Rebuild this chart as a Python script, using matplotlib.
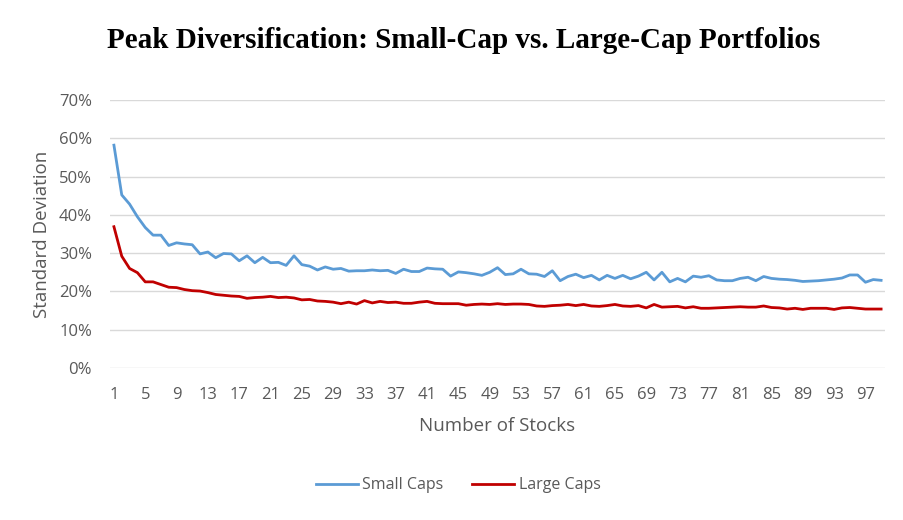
import numpy as np
import matplotlib
matplotlib.use('Agg')
import matplotlib.pyplot as plt
from matplotlib.ticker import FuncFormatter

# number of stocks in the portfolio, 1..99
n_stocks = list(range(1, 100))

# standard deviation, in percent
small_caps = [
    58.2, 45.2, 42.8, 39.5, 36.7, 34.7, 34.7, 32.0, 32.7, 32.4,
    32.2, 29.8, 30.3, 28.8, 29.9, 29.8, 28.0, 29.3, 27.5, 28.9,
    27.5, 27.6, 26.8, 29.3, 27.0, 26.6, 25.6, 26.4, 25.8, 26.0,
    25.3, 25.4, 25.4, 25.6, 25.4, 25.5, 24.7, 25.8, 25.2, 25.2,
    26.1, 25.9, 25.8, 24.0, 25.1, 24.9, 24.6, 24.2, 25.0, 26.2,
    24.4, 24.6, 25.8, 24.6, 24.5, 23.9, 25.4, 22.8, 23.9, 24.5,
    23.6, 24.2, 23.0, 24.2, 23.4, 24.2, 23.3, 24.0, 25.0, 23.0,
    25.0, 22.5, 23.4, 22.5, 24.0, 23.7, 24.1, 23.0, 22.8, 22.8,
    23.4, 23.7, 22.8, 23.9, 23.4, 23.2, 23.1, 22.9, 22.6, 22.7,
    22.8, 23.0, 23.2, 23.5, 24.3, 24.3, 22.4, 23.1, 22.9,
]
large_caps = [
    36.9, 29.2, 26.0, 24.9, 22.5, 22.5, 21.8, 21.1, 21.0, 20.5,
    20.2, 20.1, 19.7, 19.2, 19.0, 18.8, 18.7, 18.2, 18.4, 18.5,
    18.7, 18.4, 18.5, 18.3, 17.8, 17.9, 17.5, 17.4, 17.2, 16.8,
    17.2, 16.7, 17.6, 17.0, 17.4, 17.1, 17.2, 16.9, 16.9, 17.2,
    17.4, 16.9, 16.8, 16.8, 16.8, 16.4, 16.6, 16.7, 16.6, 16.8,
    16.6, 16.7, 16.7, 16.6, 16.2, 16.1, 16.3, 16.4, 16.6, 16.3,
    16.6, 16.2, 16.1, 16.3, 16.6, 16.2, 16.1, 16.3, 15.7, 16.6,
    15.9, 16.0, 16.1, 15.7, 16.0, 15.6, 15.6, 15.7, 15.8, 15.9,
    16.0, 15.9, 15.9, 16.2, 15.8, 15.7, 15.4, 15.6, 15.3, 15.6,
    15.6, 15.6, 15.3, 15.7, 15.8, 15.6, 15.4, 15.4, 15.4,
]
x_ticks = list(range(1, 100, 4))
y_ticks = [0, 10, 20, 30, 40, 50, 60, 70]

grey = '#595959'
plt.rcParams['font.family'] = ['Open Sans', 'DejaVu Sans']

fig = plt.figure(figsize=(9.04, 5.2), dpi=100)
ax = fig.add_axes([0.1217, 0.2923, 0.979 - 0.1217, 0.8077 - 0.2923])

ax.plot(n_stocks, small_caps, color='#5B9BD5', lw=2.0, label='Small Caps')
ax.plot(n_stocks, large_caps, color='#C00000', lw=2.0, label='Large Caps')

ax.set_xlim(0.5, 99.5)
ax.set_ylim(0, 70)
ax.set_xticks(x_ticks)
ax.set_yticks(y_ticks)
ax.yaxis.set_major_formatter(FuncFormatter(lambda v, p: '%d%%' % v))
ax.tick_params(length=0, labelsize=12, colors=grey)
ax.tick_params(axis='y', pad=13)
ax.tick_params(axis='x', pad=14)
ax.grid(axis='y', color='#D9D9D9', lw=1)
ax.set_axisbelow(True)
for s in ax.spines.values():
    s.set_visible(False)

ax.set_xlabel('Number of Stocks', fontsize=13.5, color=grey, labelpad=10)
ax.set_ylabel('Standard Deviation', fontsize=13.5, color=grey, labelpad=6)

fig.text(0.513, 0.923, 'Peak Diversification: Small-Cap vs. Large-Cap Portfolios',
         ha='center', va='center', fontsize=21, fontweight='bold',
         family='Liberation Serif')

fig.legend(loc='center', bbox_to_anchor=(0.507, 0.067), ncol=2, frameon=False,
           fontsize=11.5, labelcolor=grey, handlelength=2.6, handletextpad=0.3,
           columnspacing=1.8)

fig.savefig('out.png', dpi=100)
